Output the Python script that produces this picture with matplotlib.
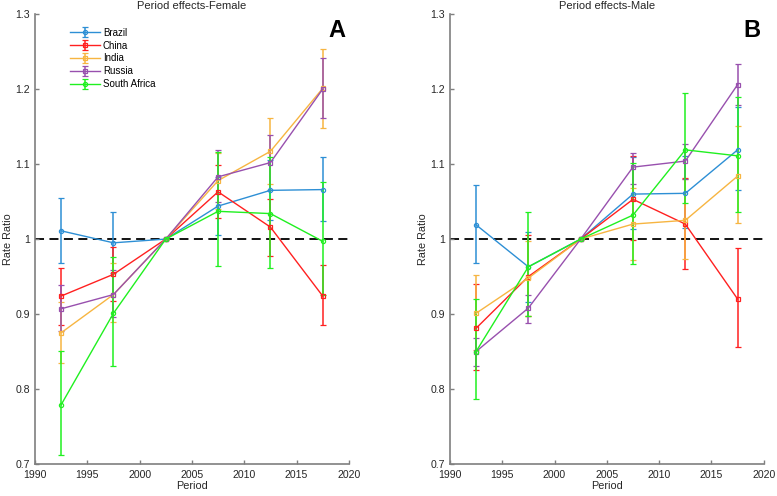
import matplotlib
matplotlib.use('Agg')
import matplotlib.pyplot as plt

# Period midpoints
periods = [1992.5, 1997.5, 2002.5, 2007.5, 2012.5, 2017.5]
countries = ['Brazil', 'China', 'India', 'Russia', 'South Africa']
colors = ['#2d8fd5', '#ff2020', '#f7b541', '#9850ae', '#20f020']
markers = ['o', 's', 's', 's', 'o']

# Female rate ratios: estimate, lower and upper bounds
female_rr = {
  'Brazil':       [1.011, 0.995, 1.0, 1.044, 1.065, 1.066],
  'China':        [0.924, 0.953, 1.0, 1.063, 1.016, 0.924],
  'India':        [0.875, 0.926, 1.0, 1.078, 1.117, 1.201],
  'Russia':       [0.907, 0.926, 1.0, 1.083, 1.102, 1.200],
  'South Africa': [0.779, 0.901, 1.0, 1.037, 1.034, 0.997],
}
female_lo = {
  'Brazil':       [0.968, 0.955, 1.0, 1.005, 1.025, 1.024],
  'China':        [0.886, 0.918, 1.0, 1.028, 0.978, 0.886],
  'India':        [0.835, 0.889, 1.0, 1.040, 1.073, 1.148],
  'Russia':       [0.877, 0.896, 1.0, 1.049, 1.066, 1.161],
  'South Africa': [0.712, 0.831, 1.0, 0.964, 0.962, 0.925],
}
female_hi = {
  'Brazil':       [1.055, 1.036, 1.0, 1.083, 1.105, 1.109],
  'China':        [0.962, 0.990, 1.0, 1.099, 1.053, 0.966],
  'India':        [0.916, 0.968, 1.0, 1.115, 1.162, 1.253],
  'Russia':       [0.939, 0.959, 1.0, 1.119, 1.139, 1.242],
  'South Africa': [0.851, 0.976, 1.0, 1.116, 1.110, 1.076],
}

# Male rate ratios
male_rr = {
  'Brazil':       [1.019, 0.963, 1.0, 1.060, 1.061, 1.119],
  'China':        [0.881, 0.950, 1.0, 1.053, 1.020, 0.920],
  'India':        [0.901, 0.948, 1.0, 1.020, 1.025, 1.084],
  'Russia':       [0.850, 0.908, 1.0, 1.096, 1.104, 1.206],
  'South Africa': [0.850, 0.963, 1.0, 1.032, 1.119, 1.111],
}
male_lo = {
  'Brazil':       [0.968, 0.916, 1.0, 1.013, 1.015, 1.066],
  'China':        [0.825, 0.898, 1.0, 0.999, 0.960, 0.856],
  'India':        [0.852, 0.898, 1.0, 0.972, 0.973, 1.022],
  'Russia':       [0.831, 0.888, 1.0, 1.074, 1.080, 1.179],
  'South Africa': [0.787, 0.898, 1.0, 0.967, 1.048, 1.036],
}
male_hi = {
  'Brazil':       [1.072, 1.010, 1.0, 1.109, 1.111, 1.176],
  'China':        [0.940, 1.005, 1.0, 1.111, 1.082, 0.988],
  'India':        [0.952, 0.998, 1.0, 1.068, 1.080, 1.151],
  'Russia':       [0.868, 0.925, 1.0, 1.115, 1.127, 1.234],
  'South Africa': [0.920, 1.036, 1.0, 1.102, 1.195, 1.190],
}

AXCOL = '#7f7f7f'
TXTCOL = '#262626'

plt.rcParams['font.family'] = ['Liberation Sans', 'DejaVu Sans']

fig = plt.figure(figsize=(7.77, 4.96), dpi=100)
axA = fig.add_axes([0.045, 0.0645, 0.404, 0.907])
axB = fig.add_axes([0.579, 0.0645, 0.404, 0.907])

def panel(ax, rr, lo, hi, title, letter, legend):
  for c, col, m in zip(countries, colors, markers):
    y = rr[c]
    yerr = [[a - b for a, b in zip(y, lo[c])], [b - a for a, b in zip(y, hi[c])]]
    ax.errorbar(periods, y, yerr=yerr, color=col, marker=m, markersize=3,
                markerfacecolor='none', markeredgewidth=0.9, linewidth=1.0,
                elinewidth=1.1, capsize=2.5, capthick=1.0, label=c)
  ax.axhline(1.0, color='black', linestyle=(0, (5, 3)), linewidth=1.3, zorder=0)
  ax.set_xlim(1990, 2020)
  ax.set_ylim(0.7, 1.3)
  ax.set_xticks(range(1990, 2021, 5))
  ax.set_yticks([0.7, 0.8, 0.9, 1.0, 1.1, 1.2, 1.3])
  ax.set_yticklabels(['0.7', '0.8', '0.9', '1', '1.1', '1.2', '1.3'])
  ax.tick_params(direction='in', length=3, color=AXCOL, labelcolor=TXTCOL, labelsize=7.6, width=1)
  ax.tick_params(axis='x', pad=4)
  for s in ['top', 'right']:
    ax.spines[s].set_visible(False)
  for s in ['left', 'bottom']:
    ax.spines[s].set_color(AXCOL)
    ax.spines[s].set_linewidth(1.2)
  ax.set_title(title, fontsize=8, color=TXTCOL, pad=4)
  ax.set_xlabel('Period', fontsize=7.8, color=TXTCOL, labelpad=1)
  ax.set_ylabel('Rate Ratio', fontsize=7.8, color=TXTCOL, labelpad=2)
  ax.text(0.962, 0.964, letter, transform=ax.transAxes, fontsize=17, fontweight='bold',
          ha='center', va='center', color='black')
  if legend:
    ax.legend(loc='upper left', bbox_to_anchor=(0.111, 0.97), frameon=False, fontsize=7,
              handlelength=3.1, labelspacing=0.3, borderaxespad=0, borderpad=0,
              handletextpad=0.3)

panel(axA, female_rr, female_lo, female_hi, 'Period effects-Female', 'A', True)
panel(axB, male_rr, male_lo, male_hi, 'Period effects-Male', 'B', False)

fig.savefig('out.png', dpi=100)
